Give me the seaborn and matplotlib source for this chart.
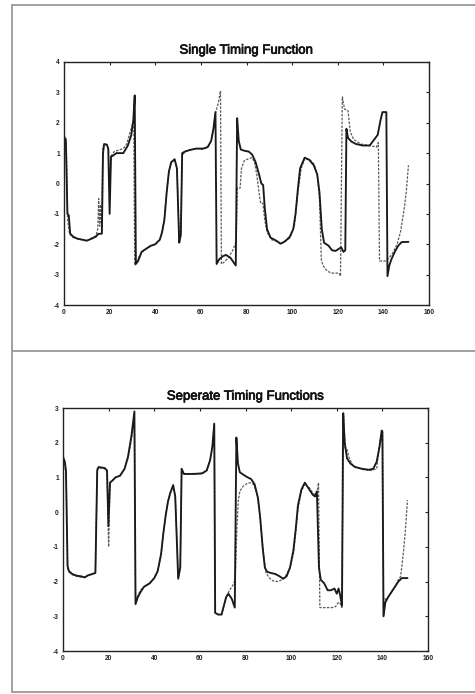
import matplotlib
matplotlib.use("Agg")
import matplotlib.pyplot as plt
from matplotlib.lines import Line2D
import matplotlib.patheffects as pe
import seaborn as sns
import pandas as pd

# ---------------- data ----------------
top_actual_x = [0, 0.8, 1.5, 2.1, 2.7, 4, 6, 8, 10, 12, 14, 15, 16.6, 17.1, 17.6, 18.8, 19.4, 20.0, 20.6, 21.5,
                23, 26, 28, 29.5, 30.4, 31.0, 31.5, 32.5, 34, 36, 38, 40, 42, 43, 44, 45, 46, 47, 48.5, 49.5,
                50.5, 51.2, 51.8, 53, 55, 58, 61, 63, 64.5, 65.5, 66.4, 66.9, 68, 69.5, 71, 73, 75.3, 75.9, 76.6, 77.5,
                79, 81, 82.5, 84, 85.5, 86.5, 87.3, 88, 89, 90.5, 93, 95, 97, 99, 100.5, 101.5, 102.5, 103.5, 105.5, 107.5,
                109.5, 111, 112, 113, 114, 116, 117.5, 119, 120.5, 121.5, 122.5, 123.3, 123.8, 124.5, 126, 128, 131, 134, 136, 137.5,
                138.8, 139.6, 141.3, 141.8, 142.6, 143.5, 145, 146.5, 148, 151]
top_actual_y = [1.55, 1.45, -1.0, -1.05, -1.65, -1.75, -1.82, -1.85, -1.88, -1.82, -1.75, -1.66, -1.65, 1.0, 1.3, 1.28, 1.15, -1.0, 0.88, 0.92,
                1.0, 1.0, 1.25, 1.6, 2.1, 2.9, -2.65, -2.55, -2.25, -2.15, -2.05, -2.0, -1.85, -1.6, -1.2, -0.3, 0.4, 0.7, 0.8, 0.5,
                -1.95, -1.7, 1.0, 1.05, 1.1, 1.15, 1.15, 1.2, 1.4, 1.8, 2.35, -2.65, -2.5, -2.4, -2.35, -2.45, -2.7, 2.15, 1.4, 1.12,
                1.08, 1.05, 0.95, 0.7, 0.3, 0.0, -0.05, -0.8, -1.5, -1.78, -1.88, -1.98, -1.9, -1.75, -1.5, -1.0, -0.2, 0.5, 0.85, 0.78,
                0.6, 0.3, -0.3, -1.5, -1.95, -2.05, -2.2, -2.22, -2.15, -2.1, -2.25, -2.2, 1.8, 1.5, 1.38, 1.3, 1.25, 1.25, 1.45, 1.6,
                2.1, 2.35, 2.35, -3.05, -2.7, -2.5, -2.25, -2.05, -1.93, -1.92]

top_pred_x = [0, 1, 1.6, 2.4, 4, 6, 8, 10, 12, 14, 14.8, 15.2, 15.6, 16.0, 16.5, 17.0, 17.5, 19, 19.5, 20.0,
              20.6, 22, 24, 26, 27.5, 29, 30.2, 30.6, 31.0, 32, 33, 35, 37, 40, 42, 43, 44, 45, 46, 47,
              48.5, 49.5, 50.5, 51.2, 51.8, 53, 55, 58, 61, 63, 64.5, 65.5, 66.3, 67.5, 68.6, 69.0, 70, 72, 74, 75.5,
              76.0, 77.2, 77.8, 79, 81, 82.5, 83.5, 84.5, 85.5, 86.2, 87.2, 88, 89, 91, 93, 95, 97, 99, 101, 102.5,
              104, 105.5, 107.5, 109.5, 111, 112, 112.8, 113.5, 115, 117, 119, 120.5, 121.2, 122.0, 123, 124.5, 125.5, 127, 130, 134,
              137, 137.8, 138.3, 141, 142.5, 144, 146, 147.5, 149, 150, 151]
top_pred_y = [1.5, 1.3, -1.2, -1.65, -1.78, -1.82, -1.85, -1.9, -1.8, -1.72, -1.5, -0.5, -1.4, -0.7, -1.6, 1.2, 1.28, 1.25, 1.1, -0.3,
              0.9, 1.05, 1.1, 1.15, 1.3, 1.7, 2.0, 1.7, -2.7, -2.55, -2.4, -2.2, -2.1, -2.0, -1.85, -1.6, -1.15, -0.3, 0.4, 0.7,
              0.78, 0.5, -1.8, -1.65, 0.9, 1.05, 1.1, 1.15, 1.12, 1.2, 1.4, 1.8, 2.3, 2.6, 3.05, -2.65, -2.6, -2.45, -2.2, -1.9,
              -0.15, -0.15, 0.5, 0.75, 0.82, 0.85, 0.7, 0.3, -0.3, -0.65, -0.65, -1.2, -1.6, -1.85, -1.9, -2.0, -1.88, -1.8, -1.4, -0.3,
              0.5, 0.82, 0.8, 0.65, 0.3, -0.5, -2.5, -2.7, -2.85, -2.95, -2.95, -2.95, -3.05, 2.85, 2.45, 2.4, 1.7, 1.45, 1.3, 1.25,
              1.2, 1.35, -2.55, -2.55, -2.45, -2.3, -2.0, -1.6, -0.9, -0.3, 0.6]

bot_actual_x = [0, 0.8, 1.3, 2.0, 2.6, 4, 6, 8, 9.5, 11, 13, 14.2, 15.0, 15.6, 18.3, 19.3, 19.9, 20.6, 21.5, 23,
                25, 27, 28.5, 30, 31.3, 31.8, 32.8, 34, 35.5, 38, 40, 41.5, 43, 44, 45, 46, 47, 48.3, 49.2, 50.5,
                51.4, 52, 53, 55, 58, 61, 63, 64.5, 65.5, 66.3, 66.7, 68, 69.5, 70.5, 71.5, 72.5, 74, 75.3, 76.0, 76.7,
                77.5, 79, 81, 82.5, 84, 85.5, 86.5, 87.5, 88.5, 89.5, 91, 93, 95, 96.5, 98, 99.5, 101, 102, 103, 104.5,
                106, 108, 109.5, 110.5, 111.3, 112.2, 113, 114.5, 116, 117.5, 119, 120, 120.8, 121.5, 122.3, 122.8, 123.5, 124.5, 126, 128,
                131, 134, 136, 137.5, 138.8, 139.7, 140.0, 140.5, 141.3, 142.5, 144, 145.5, 147, 148.5, 151]
bot_actual_y = [1.6, 1.45, 1.2, -1.55, -1.7, -1.78, -1.83, -1.85, -1.88, -1.82, -1.78, -1.75, 1.2, 1.3, 1.27, 1.2, -0.4, 0.85, 0.9, 1.0,
                1.05, 1.25, 1.6, 2.2, 2.9, -2.65, -2.45, -2.3, -2.15, -2.05, -1.9, -1.7, -1.2, -0.6, -0.1, 0.3, 0.55, 0.78, 0.45, -1.92,
                -1.6, 1.25, 1.1, 1.1, 1.1, 1.12, 1.2, 1.5, 1.9, 2.55, -2.9, -2.95, -2.95, -2.7, -2.45, -2.35, -2.5, -2.75, 2.15, 1.4,
                1.15, 1.08, 1.0, 0.95, 0.8, 0.4, -0.2, -1.0, -1.6, -1.72, -1.75, -1.78, -1.85, -1.92, -1.85, -1.6, -1.1, -0.5, 0.2, 0.65,
                0.85, 0.65, 0.5, 0.45, 0.6, -1.6, -1.95, -2.05, -2.25, -2.25, -2.2, -2.35, -2.2, -2.4, -2.7, 2.85, 2.0, 1.55, 1.4, 1.3,
                1.25, 1.22, 1.25, 1.45, 1.9, 2.35, 2.3, -3.0, -2.6, -2.45, -2.3, -2.15, -2.0, -1.9, -1.9]

bot_pred_x = [0, 0.8, 1.4, 2.0, 2.6, 4, 6, 8, 9.5, 11, 13, 14.2, 15.0, 15.6, 18.3, 19.3, 20.0, 20.6, 21.5, 23,
              25, 27, 28.5, 30, 31.3, 31.8, 32.8, 34, 35.5, 38, 40, 41.5, 43, 44, 45, 46, 47, 48.3, 49.2, 50.5,
              51.4, 52, 53, 55, 58, 61, 63, 64.5, 65.5, 66.3, 66.7, 68, 69.5, 70.5, 71.5, 73, 74.5, 75.5, 76.2, 76.8,
              77.5, 79, 80.5, 82, 83.5, 85, 86, 87, 88, 89, 90.5, 92, 94, 96, 97.5, 99.5, 101, 102, 103, 104.5,
              106, 108, 109.5, 110.5, 111.5, 112.0, 112.6, 115, 118, 119.5, 120.5, 121.3, 122.2, 123.0, 123.6, 124.5, 125.5, 127, 129, 132,
              135, 137.5, 138.8, 139.7, 140.1, 140.5, 141.3, 142.5, 144, 145.5, 147, 148, 149, 150, 151]
bot_pred_y = [1.5, 1.35, 1.0, -1.6, -1.72, -1.8, -1.85, -1.87, -1.88, -1.82, -1.78, -1.75, 1.25, 1.28, 1.25, 1.15, -1.0, 0.85, 0.9, 1.0,
              1.05, 1.25, 1.55, 2.1, 2.6, -2.6, -2.4, -2.25, -2.15, -2.05, -1.9, -1.7, -1.25, -0.6, -0.1, 0.3, 0.55, 0.75, 0.45, -1.85,
              -1.55, 1.2, 1.1, 1.1, 1.12, 1.1, 1.2, 1.5, 1.9, 2.5, -2.9, -2.95, -2.95, -2.7, -2.45, -2.25, -2.1, -1.95, -0.5, 0.3,
              0.6, 0.75, 0.82, 0.85, 0.8, 0.55, 0.1, -0.6, -1.3, -1.75, -1.9, -1.98, -2.0, -1.95, -1.85, -1.6, -1.2, -0.6, 0.1, 0.6,
              0.82, 0.7, 0.55, 0.5, 0.6, 0.85, -2.75, -2.75, -2.75, -2.72, -2.62, -2.6, -2.75, 2.85, 1.85, 1.8, 1.55, 1.35, 1.28, 1.22,
              1.2, 1.25, 2.0, 2.3, 2.35, -3.0, -2.5, -2.45, -2.3, -2.15, -1.95, -1.85, -1.3, -0.6, 0.35]

titles = ["Single Timing Function", "Seperate Timing Functions"]
x_ticks = [0, 20, 40, 60, 80, 100, 120, 140, 160]
top_y_ticks = [-4, -3, -2, -1, 0, 1, 2, 3, 4]
bot_y_ticks = [-4, -3, -2, -1, 0, 1, 2, 3]

# ---------------- figure ----------------
sns.set_style("white")
plt.rcParams["font.family"] = ["Liberation Sans", "DejaVu Sans"]

W, H = 475, 694
fig = plt.figure(figsize=(W / 100, H / 100), dpi=100)
fig.patch.set_facecolor("white")

def px_axes(left, top, right, bottom):
    return fig.add_axes([left / W, 1 - bottom / H, (right - left) / W, (bottom - top) / H])

ax1 = px_axes(64, 62, 429, 305)
ax2 = px_axes(63, 408, 428, 651)

panels = [
    (ax1, top_actual_x, top_actual_y, top_pred_x, top_pred_y, titles[0], (-4, 4), top_y_ticks),
    (ax2, bot_actual_x, bot_actual_y, bot_pred_x, bot_pred_y, titles[1], (-4, 3), bot_y_ticks),
]

for ax, ax_x, ax_y, pr_x, pr_y, title, ylim, yt in panels:
    assert len(ax_x) == len(ax_y) and len(pr_x) == len(pr_y)
    df_a = pd.DataFrame({"t": ax_x, "v": ax_y})
    df_p = pd.DataFrame({"t": pr_x, "v": pr_y})
    sns.lineplot(data=df_p, x="t", y="v", ax=ax, color="#5a5a5a", linewidth=0.9,
                 linestyle=(0, (2.0, 1.1)), estimator=None, sort=False)
    sns.lineplot(data=df_a, x="t", y="v", ax=ax, color="#1a1a1a", linewidth=1.35,
                 estimator=None, sort=False)
    ax.set_xlim(0, 160)
    ax.set_ylim(*ylim)
    ax.set_xticks(x_ticks)
    ax.set_yticks(yt)
    ax.set_xticklabels([str(v) for v in x_ticks])
    ax.set_yticklabels([str(v) for v in yt])
    ax.set_xlabel("")
    ax.set_ylabel("")
    t = ax.set_title(title, fontsize=9.5, color="#111111", pad=6)
    t.set_path_effects([pe.withStroke(linewidth=0.5, foreground="#111111")])
    ax.tick_params(direction="in", length=2.5, width=0.8, color="#222222",
                   top=True, right=True, labelsize=4.8, labelcolor="#222222", pad=3)
    for sp in ax.spines.values():
        sp.set_visible(True)
        sp.set_color("#222222")
        sp.set_linewidth(1.0)
    for lab in ax.get_xticklabels() + ax.get_yticklabels():
        lab.set_fontweight("bold")

# page frame lines
frame_col = "#9a9a9a"
fig.add_artist(Line2D([12 / W, 1], [1 - 5 / H, 1 - 5 / H], color=frame_col, lw=1.3))
fig.add_artist(Line2D([12 / W, 12 / W], [1 - 5 / H, 1 - 692 / H], color=frame_col, lw=1.3))
fig.add_artist(Line2D([12 / W, 1], [1 - 351 / H, 1 - 351 / H], color=frame_col, lw=1.3))
fig.add_artist(Line2D([12 / W, 1], [1 - 692 / H, 1 - 692 / H], color=frame_col, lw=1.3))

fig.savefig("out.png", dpi=100, facecolor="white")
